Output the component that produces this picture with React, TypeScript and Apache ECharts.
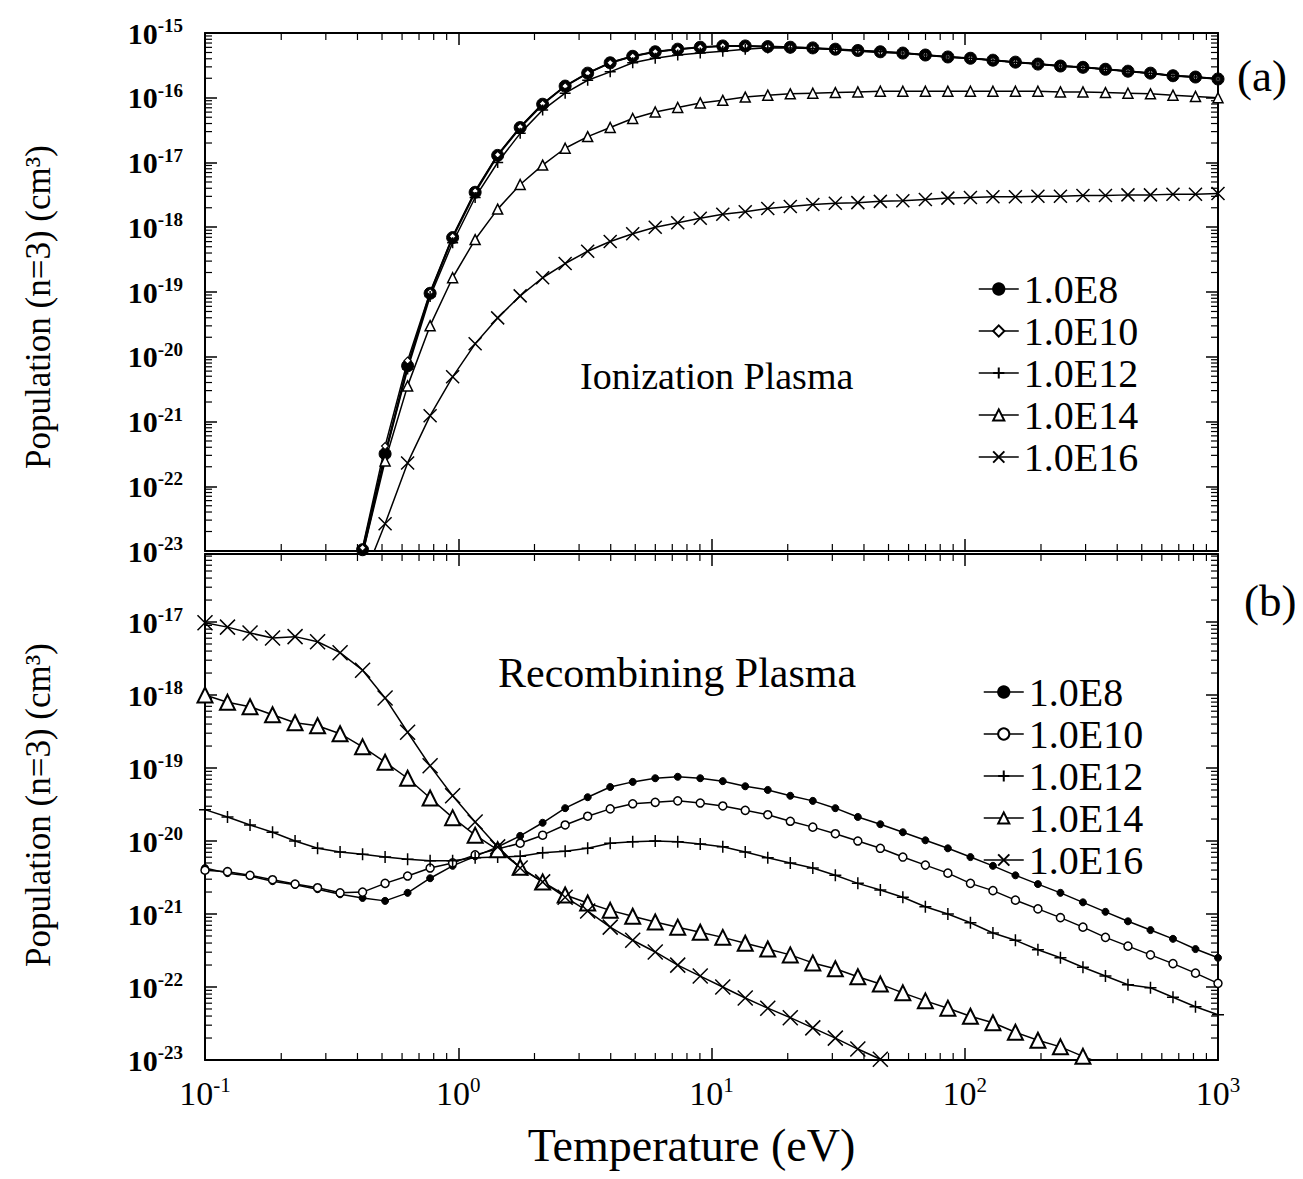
import { useEffect, useRef } from 'react';
import * as echarts from 'echarts';

// Temperature grid (eV), 46 log-spaced points as plotted
const temperature = [
  0.1, 0.1227, 0.1506, 0.1848, 0.2268, 0.2783, 0.3415, 0.419, 0.5142, 0.631,
  0.7743, 0.9502, 1.166, 1.431, 1.756, 2.154, 2.643, 3.244, 3.981, 4.885,
  5.995, 7.356, 9.027, 11.08, 13.59, 16.68, 20.47, 25.12, 30.83, 37.83,
  46.42, 56.96, 69.9, 85.77, 105.3, 129.2, 158.5, 194.5, 238.7, 292.9,
  359.4, 441.0, 541.2, 664.1, 814.9, 1000,
];

// log10 of population. null = not plotted
// (a) Ionization plasma
const ionE8 = [null, null, null, null, null, null, -24.6, -22.98, -21.5, -20.14,
  -19.02, -18.16, -17.46, -16.89, -16.46, -16.1, -15.82, -15.62, -15.46, -15.36,
  -15.29, -15.25, -15.22, -15.2, -15.2, -15.21, -15.22, -15.23, -15.25, -15.27,
  -15.29, -15.31, -15.34, -15.37, -15.39, -15.42, -15.45, -15.48, -15.51, -15.53,
  -15.56, -15.59, -15.62, -15.66, -15.68, -15.71];
const ionE10 = [null, null, null, null, null, null, -24.5, -22.95, -21.38, -20.06,
  -19.0, -18.14, -17.44, -16.88, -16.45, -16.09, -15.82, -15.62, -15.46, -15.36,
  -15.29, -15.25, -15.22, -15.2, -15.2, -15.21, -15.22, -15.23, -15.26, -15.28,
  -15.3, -15.31, -15.34, -15.37, -15.39, -15.42, -15.45, -15.48, -15.51, -15.53,
  -15.56, -15.59, -15.62, -15.66, -15.68, -15.71];
const ionE12 = [null, null, null, null, null, null, -24.7, -23.05, -21.53, -20.19,
  -19.07, -18.24, -17.54, -17.0, -16.55, -16.19, -15.93, -15.73, -15.6, -15.46,
  -15.39, -15.34, -15.31, -15.28, -15.25, -15.23, -15.23, -15.24, -15.25, -15.27,
  -15.29, -15.31, -15.34, -15.37, -15.39, -15.42, -15.45, -15.48, -15.51, -15.53,
  -15.56, -15.59, -15.62, -15.66, -15.68, -15.71];
const ionE14 = [null, null, null, null, null, null, -24.5, -23.05, -21.61, -20.45,
  -19.52, -18.78, -18.19, -17.72, -17.34, -17.04, -16.78, -16.6, -16.46, -16.32,
  -16.22, -16.15, -16.08, -16.04, -15.99, -15.96, -15.94, -15.93, -15.92, -15.91,
  -15.9, -15.9, -15.9, -15.9, -15.9, -15.9, -15.9, -15.9, -15.91, -15.91,
  -15.92, -15.93, -15.94, -15.96, -15.98, -16.0];
const ionE16 = [null, null, null, null, null, null, null, -23.45, -22.58, -21.64,
  -20.91, -20.31, -19.8, -19.4, -19.06, -18.78, -18.56, -18.37, -18.22, -18.1,
  -18.0, -17.93, -17.86, -17.8, -17.76, -17.71, -17.68, -17.65, -17.63, -17.62,
  -17.6, -17.59, -17.57, -17.55, -17.54, -17.53, -17.53, -17.52, -17.52, -17.51,
  -17.51, -17.5, -17.5, -17.49, -17.49, -17.48];

// (b) Recombining plasma
const recE8 = [-20.37, -20.44, -20.48, -20.55, -20.6, -20.66, -20.73, -20.78, -20.82, -20.71,
  -20.51, -20.34, -20.21, -20.08, -19.93, -19.75, -19.55, -19.4, -19.26, -19.19,
  -19.14, -19.12, -19.14, -19.18, -19.25, -19.3, -19.38, -19.45, -19.55, -19.67,
  -19.77, -19.88, -19.99, -20.1, -20.22, -20.34, -20.47, -20.59, -20.71, -20.84,
  -20.97, -21.1, -21.22, -21.34, -21.48, -21.6];
const recE10 = [-20.4, -20.42, -20.47, -20.53, -20.59, -20.64, -20.71, -20.7, -20.58, -20.48,
  -20.37, -20.3, -20.19, -20.11, -20.03, -19.92, -19.78, -19.66, -19.56, -19.49,
  -19.47, -19.45, -19.48, -19.52, -19.58, -19.64, -19.73, -19.81, -19.9, -20.0,
  -20.1, -20.22, -20.33, -20.44, -20.58, -20.68, -20.81, -20.93, -21.05, -21.18,
  -21.32, -21.44, -21.56, -21.68, -21.81, -21.95];
const recE12 = [-19.57, -19.67, -19.78, -19.88, -20.0, -20.1, -20.15, -20.18, -20.22, -20.25,
  -20.27, -20.27, -20.23, -20.22, -20.21, -20.16, -20.14, -20.1, -20.03, -20.01,
  -20.0, -20.01, -20.04, -20.08, -20.15, -20.23, -20.3, -20.37, -20.47, -20.58,
  -20.67, -20.77, -20.9, -21.0, -21.12, -21.26, -21.36, -21.49, -21.6, -21.73,
  -21.85, -21.97, -22.01, -22.14, -22.27, -22.38];
const recE14 = [-18.0, -18.1, -18.16, -18.27, -18.38, -18.42, -18.53, -18.71, -18.92, -19.14,
  -19.41, -19.68, -19.92, -20.12, -20.36, -20.56, -20.74, -20.85, -20.95, -21.03,
  -21.11, -21.18, -21.25, -21.32, -21.4, -21.48, -21.56, -21.67, -21.75, -21.86,
  -21.96, -22.08, -22.19, -22.29, -22.4, -22.49, -22.62, -22.73, -22.82, -22.95,
  -23.07, null, null, null, null, null];
const recE16 = [-17.01, -17.07, -17.15, -17.22, -17.2, -17.27, -17.42, -17.66, -18.04, -18.51,
  -18.97, -19.38, -19.74, -20.08, -20.37, -20.56, -20.77, -20.96, -21.18, -21.36,
  -21.52, -21.7, -21.85, -22.0, -22.15, -22.29, -22.42, -22.56, -22.7, -22.85,
  -22.99, -23.13, null, null, null, null, null, null, null, null,
  null, null, null, null, null, null];

const densityLabels = ['1.0E8', '1.0E10', '1.0E12', '1.0E14', '1.0E16'];

// tick values
const xTicks = [0.1, 1, 10, 100, 1000];
const yTicksTop = [1e-23, 1e-22, 1e-21, 1e-20, 1e-19, 1e-18, 1e-17, 1e-16, 1e-15];
const yTicksBottom = [1e-23, 1e-22, 1e-21, 1e-20, 1e-19, 1e-18, 1e-17];

// axis extents
const X_MIN = 0.1;
const X_MAX = 1000;
const TOP_Y_MIN = 1e-23;
const TOP_Y_MAX = 1e-15;
const BOT_Y_MIN = 1e-23;
const BOT_Y_MAX = 8.55e-17;

const FONT = '"Liberation Serif", "Times New Roman", serif';
const PLUS = 'path://M5,0L5,10M0,5L10,5';
const CROSS = 'path://M0,0L10,10M10,0L0,10';

const toPoints = (arr: (number | null)[]) => {
  const out: [number, number][] = [];
  arr.forEach((v, i) => {
    if (v !== null) out.push([temperature[i], Math.pow(10, v)]);
  });
  return out;
};

const minorValues = (fromExp: number, toExp: number, maxVal: number) => {
  const out: number[] = [];
  for (let e = fromExp; e < toExp; e++) {
    for (let m = 2; m <= 9; m++) {
      const v = m * Math.pow(10, e);
      if (v < maxVal) out.push(v);
    }
  }
  return out;
};

const expLabel = (v: number) => {
  const l = Math.log10(v);
  const e = Math.round(l);
  if (Math.abs(l - e) > 1e-6) return '';
  return '{b|10}{s|' + e + '}';
};

export default function App() {
  const ref = useRef<HTMLDivElement>(null);

  useEffect(() => {
    if (!ref.current) return;
    const chart = echarts.init(ref.current, undefined, { renderer: 'svg' });

    const richY = {
      b: { fontSize: 30, fontFamily: FONT, color: '#000', lineHeight: 34, fontWeight: 'bold' as const },
      s: { fontSize: 19, fontFamily: FONT, color: '#000', verticalAlign: 'top' as const, lineHeight: 18, fontWeight: 'bold' as const },
    };
    const richX = {
      b: { fontSize: 34, fontFamily: FONT, color: '#000', lineHeight: 38 },
      s: { fontSize: 21, fontFamily: FONT, color: '#000', verticalAlign: 'top' as const, lineHeight: 20 },
    };

    const baseAxis = (min: number, max: number, ticks: number[]) => ({
      type: 'log' as const,
      logBase: 10,
      min,
      max,
      axisLine: { show: true, onZero: false, lineStyle: { color: '#000', width: 2 } },
      axisTick: { show: true, inside: true, length: 12, lineStyle: { color: '#000', width: 1.5 }, customValues: ticks },
      splitLine: { show: false },
      minorTick: { show: false },
    });

    const xAxes = [
      { ...baseAxis(X_MIN, X_MAX, xTicks), gridIndex: 0, position: 'bottom', axisLabel: { show: false } },
      { ...baseAxis(X_MIN, X_MAX, xTicks), gridIndex: 0, position: 'top', axisLabel: { show: false } },
      {
        ...baseAxis(X_MIN, X_MAX, xTicks), gridIndex: 1, position: 'bottom',
        axisLabel: { show: true, formatter: expLabel, rich: richX, margin: 14, customValues: xTicks, showMinLabel: true, showMaxLabel: true, hideOverlap: false },
        name: 'Temperature (eV)', nameLocation: 'middle', nameGap: 62,
        nameTextStyle: { fontSize: 46, fontFamily: FONT, color: '#000', padding: [0, 40, 0, 0] },
      },
      { ...baseAxis(X_MIN, X_MAX, xTicks), gridIndex: 1, position: 'top', axisLabel: { show: false } },
    ];

    const yAxes = [
      {
        ...baseAxis(TOP_Y_MIN, TOP_Y_MAX, yTicksTop), gridIndex: 0, position: 'left',
        axisLabel: { show: true, formatter: expLabel, rich: richY, margin: 22, customValues: yTicksTop, showMinLabel: true, showMaxLabel: true, hideOverlap: false },
      },
      { ...baseAxis(TOP_Y_MIN, TOP_Y_MAX, yTicksTop), gridIndex: 0, position: 'right', axisLabel: { show: false } },
      {
        ...baseAxis(BOT_Y_MIN, BOT_Y_MAX, yTicksBottom), gridIndex: 1, position: 'left',
        axisLabel: { show: true, formatter: expLabel, rich: richY, margin: 22, customValues: yTicksBottom, showMinLabel: true, showMaxLabel: true, hideOverlap: false },
      },
      { ...baseAxis(BOT_Y_MIN, BOT_Y_MAX, yTicksBottom), gridIndex: 1, position: 'right', axisLabel: { show: false } },
    ];

    const lineSeries = (
      name: string, data: (number | null)[], axis: number,
      symbol: string, symbolSize: number, fill: string, lineWidth: number, borderWidth: number,
    ) => ({
      type: 'line' as const,
      name,
      data: toPoints(data),
      xAxisIndex: axis,
      yAxisIndex: axis,
      symbol,
      symbolSize,
      symbolKeepAspect: true,
      showAllSymbol: true,
      clip: true,
      smooth: false,
      itemStyle: { color: fill, borderColor: '#000', borderWidth },
      lineStyle: { color: '#000', width: lineWidth },
      emphasis: { disabled: true },
      silent: true,
      z: 3,
    });

    const tickStyle = { stroke: '#000', lineWidth: 1.2 };
    const xMinor = minorValues(-1, 3, X_MAX);
    const xMinorSeries = (axis: number, yMin: number, yMax: number) => ({
      type: 'custom' as const,
      xAxisIndex: axis,
      yAxisIndex: axis,
      silent: true,
      clip: false,
      data: xMinor.map((x) => [x, yMin]),
      encode: { x: 0, y: 1 },
      renderItem: (_p: any, api: any) => {
        const x = api.value(0);
        const b = api.coord([x, yMin]);
        const t = api.coord([x, yMax]);
        return {
          type: 'group',
          children: [
            { type: 'line', shape: { x1: b[0], y1: b[1], x2: b[0], y2: b[1] - 7 }, style: tickStyle },
            { type: 'line', shape: { x1: t[0], y1: t[1], x2: t[0], y2: t[1] + 7 }, style: tickStyle },
          ],
        };
      },
    });
    const yMinorSeries = (axis: number, vals: number[]) => ({
      type: 'custom' as const,
      xAxisIndex: axis,
      yAxisIndex: axis,
      silent: true,
      clip: false,
      data: vals.map((y) => [X_MIN, y]),
      encode: { x: 0, y: 1 },
      renderItem: (_p: any, api: any) => {
        const y = api.value(1);
        const l = api.coord([X_MIN, y]);
        const r = api.coord([X_MAX, y]);
        return {
          type: 'group',
          children: [
            { type: 'line', shape: { x1: l[0], y1: l[1], x2: l[0] + 7, y2: l[1] }, style: tickStyle },
            { type: 'line', shape: { x1: r[0], y1: r[1], x2: r[0] - 7, y2: r[1] }, style: tickStyle },
          ],
        };
      },
    });

    const [n8, n10, n12, n14, n16] = densityLabels;
    const sfx = ' (b)';
    const yName = 'Population (n=3) (cm³)';
    const legendText = { fontSize: 40, fontFamily: FONT, color: '#000', lineHeight: 34 };

    const option = {
      animation: false,
      backgroundColor: '#fff',
      grid: [
        { left: 197, top: 25, width: 1013, height: 518, containLabel: false, outerBoundsMode: 'none' },
        { left: 197, top: 546, width: 1013, height: 506, containLabel: false, outerBoundsMode: 'none' },
      ],
      xAxis: xAxes,
      yAxis: yAxes,
      legend: [
        {
          orient: 'vertical', left: 970, top: 261, selectedMode: false, padding: 0,
          itemWidth: 40, itemHeight: 14, itemGap: 2,
          textStyle: legendText,
          lineStyle: { color: '#000', width: 1.5 },
          data: [n8, n10, n12, n14, n16],
        },
        {
          orient: 'vertical', left: 975, top: 664, selectedMode: false, padding: 0,
          itemWidth: 40, itemHeight: 14, itemGap: 2,
          textStyle: legendText,
          lineStyle: { color: '#000', width: 1.5 },
          formatter: (name: string) => name.replace(sfx, ''),
          data: [n8 + sfx, n10 + sfx, n12 + sfx, n14 + sfx, n16 + sfx],
        },
      ],
      graphic: [
        { type: 'text', left: 572, top: 349, style: { text: 'Ionization Plasma', fontSize: 38, fontFamily: FONT, fill: '#000' } },
        { type: 'text', left: 490, top: 644, style: { text: 'Recombining Plasma', fontSize: 42, fontFamily: FONT, fill: '#000' } },
        { type: 'text', left: 1229, top: 45, style: { text: '(a)', fontSize: 45, fontFamily: FONT, fill: '#000' } },
        { type: 'text', left: 1236, top: 570, style: { text: '(b)', fontSize: 45, fontFamily: FONT, fill: '#000' } },
        {
          type: 'text', x: 30, y: 299, rotation: Math.PI / 2,
          style: { text: yName, fontSize: 35, fontFamily: FONT, fill: '#000', align: 'center', verticalAlign: 'middle' },
        },
        {
          type: 'text', x: 30, y: 797, rotation: Math.PI / 2,
          style: { text: yName, fontSize: 35, fontFamily: FONT, fill: '#000', align: 'center', verticalAlign: 'middle' },
        },
      ],
      series: [
        lineSeries(n8, ionE8, 0, 'circle', 12, '#000', 2, 1),
        lineSeries(n10, ionE10, 0, 'diamond', 7, '#fff', 1.5, 1.2),
        lineSeries(n12, ionE12, 0, PLUS, 11, '#000', 1.5, 1.5),
        lineSeries(n14, ionE14, 0, 'triangle', 10, '#fff', 1.5, 1.5),
        lineSeries(n16, ionE16, 0, CROSS, 13, '#000', 1.5, 1.5),
        lineSeries(n8 + sfx, recE8, 2, 'circle', 7, '#000', 1.5, 1),
        lineSeries(n10 + sfx, recE10, 2, 'circle', 8, '#fff', 1.5, 1.5),
        lineSeries(n12 + sfx, recE12, 2, PLUS, 12, '#000', 1.5, 1.5),
        lineSeries(n14 + sfx, recE14, 2, 'triangle', 15, '#fff', 1.5, 2),
        lineSeries(n16 + sfx, recE16, 2, CROSS, 15, '#000', 1.5, 1.5),
        xMinorSeries(0, TOP_Y_MIN, TOP_Y_MAX),
        xMinorSeries(2, BOT_Y_MIN, BOT_Y_MAX),
        yMinorSeries(0, minorValues(-23, -15, TOP_Y_MAX)),
        yMinorSeries(2, minorValues(-23, -16, BOT_Y_MAX)),
      ],
    };

    chart.setOption(option as any);
    return () => chart.dispose();
  }, []);

  return <div ref={ref} style={{ width: 1295, height: 1171 }} />;
}
